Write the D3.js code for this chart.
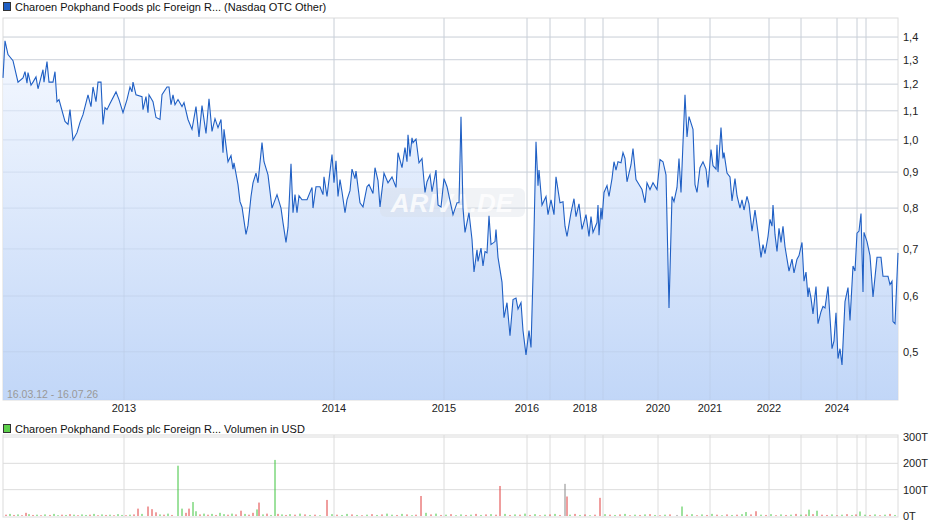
<!DOCTYPE html>
<html><head><meta charset="utf-8">
<script src="https://cdn.jsdelivr.net/npm/d3@7"></script>
<style>body{margin:0;background:#fff}svg{font-family:"Liberation Sans",Arial,sans-serif}</style>
</head><body><svg id="c" width="940" height="526"></svg>
<script>
const title = "Charoen Pokphand Foods plc Foreign R... (Nasdaq OTC Other)";
const volTitle = "Charoen Pokphand Foods plc Foreign R... Volumen in USD";
const rangeLabel = "16.03.12 - 16.07.26";
const priceTicks = [0.5,0.6,0.7,0.8,0.9,1.0,1.1,1.2,1.3,1.4];
const volTicks = [0,100,200,300];
const yearLabels = ["2013","2014","2015","2016","2018","2020","2021","2022","2024"];
const yearIdx = [124,334,444,527,585,658,710,769,837];
const extraGridIdx = [550,603,801,857,866];
const dayIdx = [3,5,8,13,18,23,25,27,28,31,33,36,38,43,44,47,49,53,55,57,59,65,68,70,73,77,80,83,88,91,93,96,98,101,103,105,107,110,116,119,123,127,130,132,133,136,142,143,146,148,149,153,156,160,162,167,169,171,173,175,178,182,184,188,192,196,199,202,206,209,212,215,218,221,223,224,228,231,233,234,238,240,
242,246,248,251,253,256,258,262,264,268,272,277,281,283,286,288,291,293,295,297,299,302,307,312,313,316,320,323,324,327,332,334,336,338,340,342,345,347,350,352,355,356,360,363,367,369,373,375,378,380,384,388,392,396,398,402,405,407,408,410,412,413,416,419,422,425,427,430,432,436,438,441,444,447,453,457,459,461,463,465,469,472,474,477,478,481,483,485,487,489,491,495,496,498,502,504,507,510,513,516,518,521,523,526,529,531,533,536,538,539,542,546,548,551,554,556,560,563,565,567,571,574,576,579,582,586,589,591,593,597,598,599,601,602,604,607,609,612,614,616,618,621,623,625,627,631,633,636,639,642,645,647,650,653,657,660,663,666,669,672,674,677,679,681,683,685,687,689,693,695,697,700,703,706,708,711,713,716,717,718,721,723,724,727,730,732,735,737,740,742,744,747,749,752,755,758,761,763,765,768,770,772,773,775,777,779,781,783,785,789,792,794,797,799,802,804,806,808,809,811,813,816,818,821,823,825,828,832,834,836,838,840,842,845,848,850,853,855,857,859,861,863,864,867,870,873,877,881,883,888,890,892,893,895,898];
const price = [1.225,1.383,1.322,1.296,1.208,1.225,1.25,1.204,1.246,1.196,1.208,1.229,1.182,1.258,1.208,1.292,1.208,1.208,1.25,1.133,1.141,1.062,1.052,1.104,1.0,1.024,1.059,1.086,1.159,1.115,1.189,1.133,1.208,1.208,1.052,1.111,1.104,1.126,1.170,1.141,1.093,1.141,1.189,1.170,1.208,1.159,1.152,1.104,1.152,1.093,1.159,1.133,1.076,1.069,1.159,1.189,1.189,1.122,1.159,1.122,1.141,1.115,1.130,1.069,1.035,1.115,1.010,1.119,1.021,1.144,1.028,1.072,1.041,1.069,0.959,1.035,0.931,0.950,0.909,0.928,0.864,0.817,
0.803,0.734,0.756,0.831,0.869,0.897,0.869,0.991,0.931,0.892,0.8,0.836,0.8,0.763,0.715,0.751,0.925,0.788,0.836,0.788,0.833,0.822,0.822,0.856,0.8,0.858,0.858,0.836,0.886,0.831,0.953,0.869,0.934,0.831,0.878,0.844,0.788,0.822,0.847,0.909,0.881,0.903,0.814,0.803,0.858,0.864,0.839,0.913,0.875,0.803,0.897,0.869,0.886,0.856,0.959,0.913,0.975,0.931,1.017,0.947,1.007,0.991,1.003,0.928,0.941,0.842,0.872,0.892,0.844,0.906,0.808,0.803,0.881,0.858,0.783,0.814,0.814,1.079,0.8,0.739,0.788,0.722,0.649,0.698,0.672,0.702,0.662,0.694,0.691,0.780,0.710,0.717,0.746,0.681,0.628,0.559,0.587,0.527,0.593,0.596,0.575,0.587,0.536,0.495,0.536,0.507,0.640,0.994,0.861,0.906,0.808,0.831,0.783,0.822,0.783,0.886,0.814,0.817,0.754,0.729,0.788,0.825,0.778,0.811,0.746,0.783,0.729,0.778,0.739,0.763,0.808,0.732,0.8,0.771,0.842,0.861,0.831,0.881,0.931,0.906,0.931,0.928,0.959,0.941,0.872,0.922,0.972,0.878,0.864,0.850,0.814,0.869,0.850,0.869,0.850,0.938,0.931,0.892,0.577,0.831,0.817,0.856,0.941,0.842,0.991,1.159,1.010,1.079,1.035,0.864,0.842,0.913,0.931,0.909,0.856,0.969,0.919,0.909,0.984,0.9,1.041,0.941,0.959,0.897,0.886,0.819,0.881,0.833,0.8,0.822,0.795,0.831,0.811,0.742,0.795,0.739,0.681,0.710,0.689,0.729,0.771,0.754,0.808,0.734,0.694,0.749,0.715,0.754,0.705,0.651,0.677,0.647,0.677,0.685,0.715,0.630,0.649,0.598,0.617,0.596,0.566,0.619,0.548,0.570,0.580,0.577,0.619,0.505,0.518,0.568,0.489,0.505,0.479,0.589,0.617,0.554,0.662,0.651,0.737,0.742,0.786,0.608,0.739,0.717,0.685,0.598,0.681,0.681,0.640,0.640,0.623,0.630,0.552,0.548,0.691];
const volIdx = [6,10,14,18,22,26,29,33,37,41,45,50,54,58,62,66,70,74,78,82,86,90,94,98,102,106,110,114,118,122,126,130,134,138,142,148,152,156,160,164,168,172,178,182,186,189,193,196,200,204,208,212,216,220,224,228,232,236,241,245,249,253,257,259,263,267,271,275,278,282,286,290,295,300,305,310,315,320,327,332,337,342,347,352,357,362,367,372,377,382,387,392,397,402,407,412,416,421,426,431,436,441,446,451,456,461,466,471,476,481,486,491,496,500,505,510,515,520,525,530,535,540,545,550,555,560,565,567,570,575,580,585,590,595,600,605,610,615,620,625,630,635,640,645,650,655,660,665,670,677,682,687,692,697,702,707,712,717,722,727,732,737,742,746,751,756,761,766,771,776,781,786,791,796,801,806,809,813,817,822,827,832,837,842,847,852,856,860,865,870,875,880,885,890,895];
const volVal = [5,8,4,6,3,12,7,4,5,3,6,4,8,3,5,4,7,5,3,6,4,5,8,3,6,4,5,3,7,4,3,5,6,28,8,36,26,14,6,5,9,4,191,28,12,28,53,18,6,9,5,8,4,12,7,5,9,6,20,8,5,12,25,51,6,9,4,213,8,6,4,7,5,9,6,4,5,3,61,7,5,4,8,6,4,3,5,7,4,6,9,5,4,8,6,3,5,76,12,6,9,4,5,7,3,6,4,5,8,4,6,7,5,114,8,4,6,5,9,4,7,3,5,6,8,4,122,74,5,8,4,6,3,5,69,7,5,4,6,8,3,5,4,6,7,4,3,5,6,4,36,5,7,3,6,4,8,5,3,6,4,5,7,15,6,18,5,4,7,3,6,4,5,8,5,6,24,7,20,5,4,6,3,5,7,4,6,17,5,4,6,3,5,8,4,6];
const volDir = [0,1,0,1,0,0,1,0,1,0,1,0,1,1,0,1,0,1,0,1,1,0,1,0,1,0,1,0,1,1,0,1,0,0,1,0,0,0,1,0,1,0,1,1,0,0,1,1,0,1,0,1,0,1,1,0,1,0,0,1,0,0,1,0,1,0,1,1,0,1,0,1,0,1,0,1,0,1,0,1,0,1,1,0,1,0,1,0,1,0,1,1,0,1,0,1,0,0,1,0,1,0,1,0,1,1,0,1,0,1,0,1,0,0,1,0,1,0,1,0,1,0,1,0,1,0,2,0,1,0,1,0,1,0,0,1,0,1,0,1,0,1,0,1,0,1,0,1,0,2,1,0,1,0,1,0,1,0,1,0,1,0,1,1,0,0,1,0,1,0,1,0,1,0,1,0,1,0,1,0,0,1,0,1,0,1,0,1,1,0,1,0,1,0,1];

const svg = d3.select("#c");
const L = 3, R = 898, T = 18, B = 400, VT = 435, VB = 517;
const x = d3.scaleLinear().domain([3, 898]).range([L, R]);
const y = d3.scaleLog().domain([0.427, 1.49]).range([B, T]);
const yv = d3.scaleLinear().domain([0, 300]).range([516, 437]);
const grid = "#dcdcdc";

const defs = svg.append("defs");
const g = defs.append("linearGradient").attr("id","ag").attr("x1",0).attr("x2",0).attr("y1",0).attr("y2",1);
g.append("stop").attr("offset","0%").attr("stop-color","#f4f8ff");
g.append("stop").attr("offset","100%").attr("stop-color","#bcd3f7");

svg.append("rect").attr("x",L).attr("y",T).attr("width",R-L).attr("height",B-T).attr("fill","none").attr("stroke",grid);
svg.selectAll(".hg").data(priceTicks).join("line").attr("x1",L).attr("x2",R)
  .attr("y1",d=>y(d)).attr("y2",d=>y(d)).attr("stroke",grid);
const vlines = yearIdx.concat(extraGridIdx);
svg.selectAll(".vg").data(vlines).join("line").attr("x1",d=>x(d)).attr("x2",d=>x(d))
  .attr("y1",T).attr("y2",B).attr("stroke",grid);

const pts = dayIdx.map((d,i)=>({d, p: price[i]}));
svg.append("path").datum(pts).attr("fill","url(#ag)").attr("opacity",0.92)
  .attr("d", d3.area().x(p=>x(p.d)).y0(B).y1(p=>y(p.p)));
svg.selectAll(".hg2").data(priceTicks).join("line").attr("x1",L).attr("x2",R)
  .attr("y1",d=>y(d)).attr("y2",d=>y(d)).attr("stroke","#b8c8e0").attr("opacity",0.35);
svg.selectAll(".vg2").data(vlines).join("line").attr("x1",d=>x(d)).attr("x2",d=>x(d))
  .attr("y1",T).attr("y2",B).attr("stroke","#b8c8e0").attr("opacity",0.35);

// watermark
svg.append("rect").attr("x",380).attr("y",188).attr("width",145).attr("height",29).attr("rx",6)
  .attr("fill","#d8dde6").attr("opacity",0.35);
svg.append("text").attr("x",452).attr("y",212).attr("text-anchor","middle").attr("font-size",26)
  .attr("font-style","italic").attr("font-weight","bold").attr("fill","#ffffff").attr("opacity",0.8).text("ARIVA.DE");

svg.append("path").datum(pts).attr("fill","none").attr("stroke","#1f5fc4").attr("stroke-width",1.1)
  .attr("d", d3.line().x(p=>x(p.d)).y(p=>y(p.p)));

svg.selectAll(".pl").data(priceTicks).join("text").attr("x",903).attr("y",d=>y(d)+4)
  .attr("font-size",11).attr("fill","#222").text(d=>d3.format(".1f")(d).replace(".",","));
svg.selectAll(".yl").data(yearLabels).join("text").attr("x",(d,i)=>x(yearIdx[i])).attr("y",412)
  .attr("text-anchor","middle").attr("font-size",11).attr("fill","#222").text(d=>d);
svg.append("text").attr("x",7).attr("y",398).attr("font-size",10.5).attr("fill","#999").text(rangeLabel);

svg.append("rect").attr("x",3.5).attr("y",2.5).attr("width",7).attr("height",8).attr("fill","#1f5fc4").attr("stroke","#333");
svg.append("text").attr("x",15).attr("y",11).attr("font-size",11).attr("fill","#111").text(title);
svg.append("rect").attr("x",3.5).attr("y",424.5).attr("width",7).attr("height",8).attr("fill","#5ccf4a").attr("stroke","#333");
svg.append("text").attr("x",15).attr("y",433).attr("font-size",11).attr("fill","#111").text(volTitle);

svg.append("rect").attr("x",L).attr("y",VT).attr("width",R-L).attr("height",VB-VT).attr("fill","none").attr("stroke",grid);
svg.selectAll(".vh").data(volTicks.slice(1)).join("line").attr("x1",L).attr("x2",R)
  .attr("y1",d=>yv(d)).attr("y2",d=>yv(d)).attr("stroke",grid);
svg.selectAll(".vv").data(vlines).join("line").attr("x1",d=>x(d)).attr("x2",d=>x(d))
  .attr("y1",VT).attr("y2",VB).attr("stroke",grid);
const cols = ["#e03c3c","#3cc43c","#888888"];
svg.selectAll(".vb").data(volIdx).join("line").attr("x1",d=>x(d)).attr("x2",d=>x(d))
  .attr("y1",yv(0)).attr("y2",(d,i)=>yv(volVal[i])).attr("stroke",(d,i)=>cols[volDir[i]]).attr("stroke-width",1);
svg.selectAll(".vl").data(volTicks).join("text").attr("x",903).attr("y",d=>yv(d)+4)
  .attr("font-size",11).attr("fill","#222").text(d=>d+"T");
</script></body></html>
